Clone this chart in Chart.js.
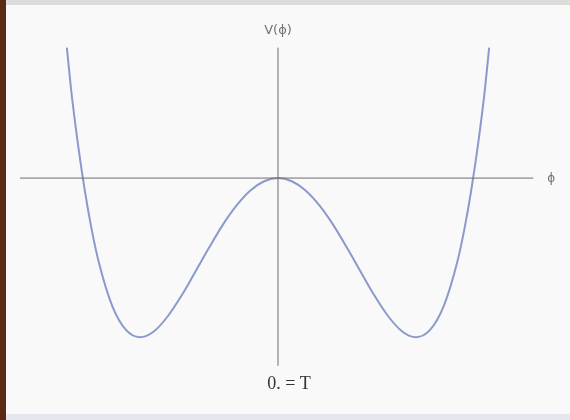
<!DOCTYPE html>
<html>
<head>
<meta charset="utf-8">
<script src="https://cdn.jsdelivr.net/npm/chart.js@4.4.1/dist/chart.umd.min.js"></script>
<style>
  html, body { margin: 0; padding: 0; }
  body { width: 570px; height: 420px; background: #f9f9f9; position: relative; overflow: hidden; }
  #bingkai-kiri { position: absolute; left: 0; top: 0; width: 6px; height: 420px; background: #5c2a14; }
  #bingkai-atas { position: absolute; left: 6px; top: 0; width: 564px; height: 5px; background: #dcdcda; }
  #bingkai-bawah { position: absolute; left: 6px; top: 414px; width: 564px; height: 6px; background: #e6e7ee; }
  #wadah { position: absolute; left: 0; top: 0; width: 570px; height: 420px; }
</style>
</head>
<body>
<div id="bingkai-kiri"></div>
<div id="bingkai-atas"></div>
<div id="bingkai-bawah"></div>
<div id="wadah"><canvas id="grafikPotensial" width="570" height="420"></canvas></div>
<script>
// -------------------------------
// DATA POTENSIAL V(phi)
// -------------------------------
const nilaiPhi = [-1.53, -1.5, -1.45, -1.4, -1.35, -1.3, -1.2, -1.1, -1.0, -0.9, -0.8, -0.7, -0.6, -0.5, -0.4, -0.3, -0.2, -0.1, 0,
                  0.1, 0.2, 0.3, 0.4, 0.5, 0.6, 0.7, 0.8, 0.9, 1.0, 1.1, 1.2, 1.3, 1.35, 1.4, 1.45, 1.5, 1.53];
const nilaiV = [0.82, 0.563, 0.215, -0.078, -0.324, -0.524, -0.806, -0.956, -1.0, -0.964, -0.870, -0.740, -0.590, -0.438, -0.294, -0.172, -0.078, -0.020, 0,
                -0.020, -0.078, -0.172, -0.294, -0.438, -0.590, -0.740, -0.870, -0.964, -1.0, -0.956, -0.806, -0.524, -0.324, -0.078, 0.215, 0.563, 0.82];

// ujung-ujung sumbu
const sumbuPhi = [-1.87, 1.85];
const sumbuV = [-1.18, 0.82];

// label
const labelSumbuY = "V(ϕ)";
const labelSumbuX = "ϕ";
const labelSuhu = "0. = T";

const titikKurva = nilaiPhi.map((p, i) => ({ x: p, y: nilaiV[i] }));

// -------------------------------
// PLUGIN LABEL
// -------------------------------
const labelPlugin = {
    id: "labelSumbu",
    afterDatasetsDraw(chart) {
        const ctx = chart.ctx;
        const sx = chart.scales.x;
        const sy = chart.scales.y;
        ctx.save();
        ctx.textAlign = "center";
        ctx.textBaseline = "middle";

        ctx.fillStyle = "#737373";
        ctx.font = "13px 'DejaVu Sans', sans-serif";
        ctx.fillText(labelSumbuY, sx.getPixelForValue(0), sy.getPixelForValue(sumbuV[1]) - 17);

        ctx.font = "12px 'DejaVu Sans', sans-serif";
        ctx.fillText(labelSumbuX, sx.getPixelForValue(sumbuPhi[1]) + 18, sy.getPixelForValue(0) + 1);

        ctx.fillStyle = "#333333";
        ctx.font = "18px 'Liberation Serif', serif";
        ctx.fillText(labelSuhu, sx.getPixelForValue(0) + 11, sy.getPixelForValue(sumbuV[0]) + 18);
        ctx.restore();
    }
};

// -------------------------------
// SETUP GRAFIK
// -------------------------------
const ctx = document.getElementById("grafikPotensial").getContext("2d");

new Chart(ctx, {
    type: "line",
    data: {
        datasets: [
            {
                label: "sumbu phi",
                data: sumbuPhi.map(p => ({ x: p, y: 0 })),
                borderColor: "#6e6e6e",
                borderWidth: 1,
                pointRadius: 0
            },
            {
                label: "sumbu V",
                data: sumbuV.map(v => ({ x: 0, y: v })),
                borderColor: "#6e6e6e",
                borderWidth: 1,
                pointRadius: 0
            },
            {
                label: "V(phi)",
                data: titikKurva,
                borderColor: "#8c99cc",
                borderWidth: 2,
                pointRadius: 0,
                cubicInterpolationMode: "monotone"
            }
        ]
    },
    options: {
        responsive: false,
        animation: false,
        layout: { padding: { left: 2, right: 16, top: 19, bottom: 51 } },
        plugins: { legend: { display: false }, tooltip: { enabled: false } },
        scales: {
            x: { type: "linear", min: -2, max: 2, display: false },
            y: { type: "linear", min: -1.2, max: 1.0, display: false }
        }
    },
    plugins: [labelPlugin]
});
</script>
</body>
</html>
